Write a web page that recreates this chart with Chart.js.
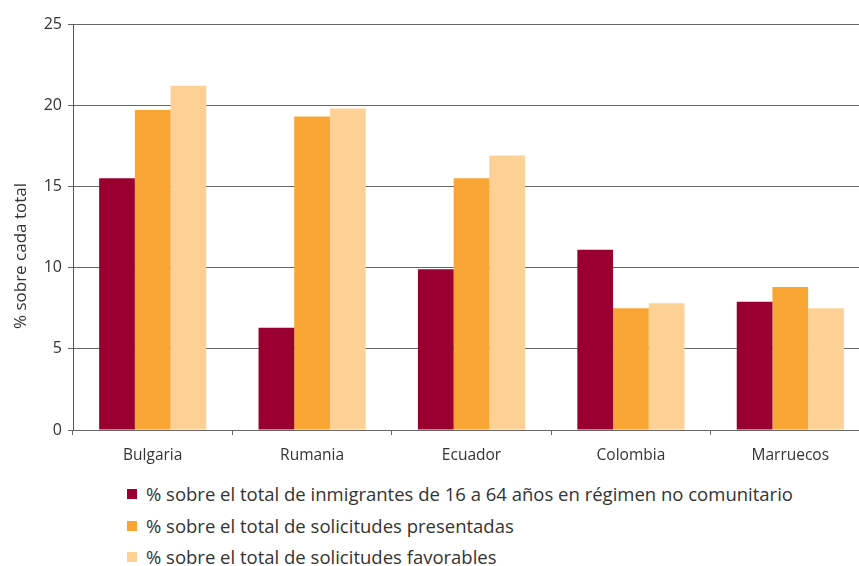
<!DOCTYPE html>
<html>
<head>
<meta charset="UTF-8">
<title>Solicitudes por nacionalidad</title>
<script src="https://cdn.jsdelivr.net/npm/chart.js"></script>
<style>
    body { margin: 0; background: #fff; font-family: 'Open Sans', sans-serif; }
    #wrap { position: relative; width: 859px; height: 566px; overflow: hidden; }
    #legend { position: absolute; left: 127px; top: 479px; margin: 0; padding: 0; list-style: none; }
    #legend li { height: 31.5px; line-height: 30px; font-size: 18.5px; color: #333; white-space: nowrap; }
    #legend span { display: inline-block; width: 10px; height: 10px; margin-right: 9px; vertical-align: 2px; }
</style>
</head>
<body>
<div id="wrap">
    <canvas id="myChart" width="870" height="470"></canvas>
    <ul id="legend"></ul>
</div>
<script>
    const paises = ['Bulgaria', 'Rumania', 'Ecuador', 'Colombia', 'Marruecos'];
    const inmigrantes = [15.5, 6.3, 9.9, 11.1, 7.9];
    const presentadas = [19.7, 19.3, 15.5, 7.5, 8.8];
    const favorables = [21.2, 19.8, 16.9, 7.8, 7.5];
    const nombres = [
        '% sobre el total de inmigrantes de 16 a 64 años en régimen no comunitario',
        '% sobre el total de solicitudes presentadas',
        '% sobre el total de solicitudes favorables'
    ];
    const tituloY = '% sobre cada total';
    const colores = ['#9a002f', '#f9a533', '#fdd096'];

    // titulo del eje y, algo desplazado hacia abajo como en el original
    const tituloPlugin = {
        id: 'tituloY',
        afterDraw(c) {
            const g = c.ctx;
            g.save();
            g.translate(21, c.chartArea.bottom - 174);
            g.rotate(-Math.PI / 2);
            g.font = '17px "Open Sans"';
            g.fillStyle = '#333';
            g.textAlign = 'center';
            g.textBaseline = 'middle';
            g.fillText(tituloY, 0, 0);
            g.restore();
        }
    };

    var ctx = document.getElementById('myChart').getContext('2d');
    const chart = new Chart(ctx, {
        type: 'bar',
        data: {
            labels: paises,
            datasets: [inmigrantes, presentadas, favorables].map((d, i) => ({
                label: nombres[i],
                data: d,
                backgroundColor: colores[i],
                categoryPercentage: 0.672,
                barPercentage: 1.0
            }))
        },
        options: {
            responsive: false,
            animation: false,
            layout: { padding: { top: 24, right: 0, left: 0, bottom: 0 } },
            plugins: { legend: { display: false }, tooltip: { enabled: false } },
            scales: {
                x: {
                    grid: { drawOnChartArea: false, tickLength: 5, color: '#666' },
                    border: { color: '#666' },
                    ticks: { color: '#333', font: { family: 'Open Sans', size: 15.5 }, padding: 11 },
                    afterFit: s => { s.height = 40; }
                },
                y: {
                    min: 0, max: 25,
                    ticks: { stepSize: 5, color: '#333', font: { family: 'Open Sans', size: 16 }, padding: 6 },
                    grid: { color: '#666', tickLength: 5 },
                    border: { color: '#555' },
                    afterFit: s => { s.width = 73; }
                }
            }
        },
        plugins: [tituloPlugin]
    });

    // leyenda en vertical, como en el original
    const ul = document.getElementById('legend');
    nombres.forEach((n, i) => {
        const li = document.createElement('li');
        li.innerHTML = '<span style="background:' + colores[i] + '"></span>' + n;
        ul.appendChild(li);
    });
</script>
</body>
</html>
